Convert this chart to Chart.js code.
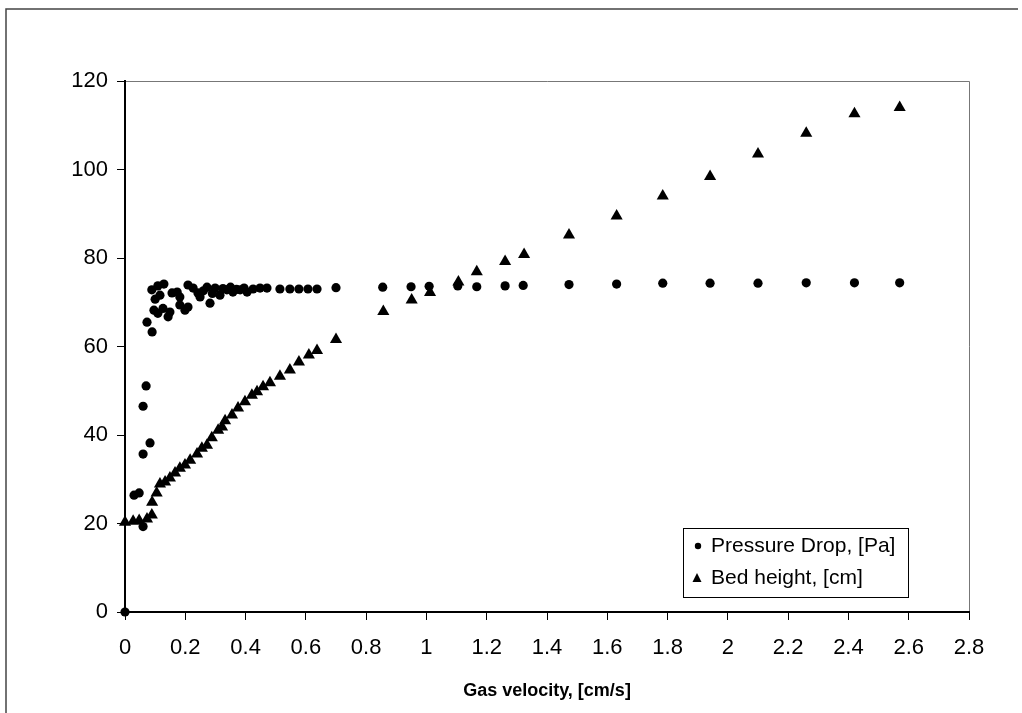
<!DOCTYPE html>
<html>
<head>
<meta charset="utf-8">
<script src="https://cdn.jsdelivr.net/npm/chart.js@4.4.1/dist/chart.umd.min.js"></script>
<style>
    body { margin: 0; background: #ffffff; }
    #wrap { width: 1022px; height: 713px; }
</style>
</head>
<body>
<div id="wrap"><canvas id="canvasChart" width="1022" height="713"></canvas></div>
<script>
// data
var pressureX = [0, 0.030, 0.047, 0.060, 0.060, 0.083, 0.060, 0.070, 0.090, 0.073,
    0.089, 0.109, 0.129, 0.100, 0.116, 0.096, 0.109, 0.126, 0.143, 0.149,
    0.156, 0.173, 0.182, 0.182, 0.199, 0.209, 0.209, 0.226, 0.242, 0.249,
    0.260, 0.272, 0.282, 0.290, 0.299, 0.315, 0.325, 0.338, 0.350, 0.358,
    0.370, 0.382, 0.395, 0.405, 0.425, 0.448, 0.471, 0.514, 0.547, 0.577,
    0.607, 0.637, 0.700, 0.855, 0.949, 1.009, 1.104, 1.167, 1.261, 1.321,
    1.473, 1.631, 1.784, 1.941, 2.100, 2.260, 2.420, 2.570];
var pressureY = [0, 26.4, 26.9, 19.3, 35.7, 38.2, 46.5, 51.1, 63.3, 65.5,
    72.8, 73.7, 74.1, 70.7, 71.6, 68.2, 67.5, 68.6, 66.7, 67.8,
    72.1, 72.3, 71.2, 69.4, 68.2, 68.9, 73.9, 73.2, 72.1, 71.2,
    72.6, 73.4, 69.8, 72.0, 73.2, 71.6, 73.1, 72.8, 73.4, 72.3,
    72.9, 72.8, 73.2, 72.3, 73.0, 73.2, 73.2, 73.0, 73.0, 73.0,
    73.0, 73.0, 73.3, 73.4, 73.5, 73.6, 73.7, 73.5, 73.7, 73.8,
    74.0, 74.1, 74.3, 74.3, 74.3, 74.4, 74.4, 74.4];

var bedX = [0, 0.027, 0.047, 0.073, 0.089, 0.090, 0.105, 0.116, 0.133, 0.149,
    0.166, 0.182, 0.199, 0.216, 0.239, 0.255, 0.272, 0.288, 0.309, 0.322,
    0.332, 0.355, 0.375, 0.398, 0.421, 0.438, 0.458, 0.481, 0.514, 0.547,
    0.577, 0.610, 0.637, 0.700, 0.857, 0.951, 1.012, 1.106, 1.167, 1.261,
    1.324, 1.473, 1.631, 1.784, 1.941, 2.100, 2.260, 2.420, 2.570];
var bedY = [20.3, 20.5, 20.7, 21.0, 21.9, 24.8, 26.9, 28.9, 29.4, 30.3,
    31.4, 32.5, 33.2, 34.3, 35.7, 37.0, 37.7, 39.4, 41.1, 41.8,
    43.2, 44.5, 46.1, 47.5, 49.0, 49.8, 50.9, 51.8, 53.3, 54.7,
    56.5, 58.1, 59.1, 61.6, 67.9, 70.5, 72.2, 74.6, 76.9, 79.2,
    80.8, 85.2, 89.5, 94.0, 98.4, 103.5, 108.2, 112.6, 114.0];

var seriesLabels = ['Pressure Drop, [Pa]', 'Bed height, [cm]'];
var xAxisTitle = 'Gas velocity, [cm/s]';
var xRange = [0, 2.8, 0.2];
var yRange = [0, 120, 20];

var fontFamily = '"Liberation Sans", Arial, sans-serif';

function toPoints(xs, ys){
    var points = [];
    for(var i = 0; i < xs.length; i++){
        points.push({x: xs[i], y: ys[i]});
    }
    return points;
}

var framePlugin = {
    id: 'frame',
    beforeDraw: function(chart){
        var ctx = chart.ctx;
        var area = chart.chartArea;
        ctx.save();
        ctx.fillStyle = '#ffffff';
        ctx.fillRect(0, 0, chart.width, chart.height);
        // outer frame of the figure
        ctx.strokeStyle = '#444444';
        ctx.lineWidth = 1.5;
        ctx.beginPath();
        ctx.moveTo(6, chart.height);
        ctx.lineTo(6, 9);
        ctx.lineTo(chart.width - 4, 9);
        ctx.stroke();
        // plot area border, top and right
        ctx.strokeStyle = '#777777';
        ctx.lineWidth = 1;
        ctx.beginPath();
        ctx.moveTo(area.left, area.top + 0.5);
        ctx.lineTo(area.right + 0.5, area.top + 0.5);
        ctx.lineTo(area.right + 0.5, area.bottom);
        ctx.stroke();
        ctx.restore();
    }
};

function drawTriangle(ctx, x, y, size){
    var h = size * 0.9;
    ctx.beginPath();
    ctx.moveTo(x, y - h / 2 - 1);
    ctx.lineTo(x + size / 2, y + h / 2);
    ctx.lineTo(x - size / 2, y + h / 2);
    ctx.closePath();
    ctx.fill();
}

var legendPlugin = {
    id: 'boxLegend',
    afterDraw: function(chart){
        var ctx = chart.ctx;
        var area = chart.chartArea;
        var right = area.right - 61;
        var bottom = area.bottom - 15;
        var left = right - 225;
        var top = bottom - 69;
        ctx.save();
        ctx.fillStyle = '#ffffff';
        ctx.fillRect(left, top, right - left, bottom - top);
        ctx.strokeStyle = '#000000';
        ctx.lineWidth = 1;
        ctx.strokeRect(left + 0.5, top + 0.5, right - left, bottom - top);
        ctx.fillStyle = '#000000';
        ctx.font = '21px ' + fontFamily;
        ctx.textBaseline = 'middle';
        ctx.textAlign = 'left';
        // circle entry
        ctx.beginPath();
        ctx.arc(left + 15, top + 18, 3.2, 0, Math.PI * 2);
        ctx.fill();
        ctx.fillText(chart.data.datasets[0].label, left + 28, top + 18);
        // triangle entry
        drawTriangle(ctx, left + 14, top + 50, 9);
        ctx.fillText(chart.data.datasets[1].label, left + 28, top + 50);
        ctx.restore();
    }
};

function createConfig(){
    var config = {
        type: 'scatter',
        data: {
            datasets: [{
                label: seriesLabels[0],
                data: toPoints(pressureX, pressureY),
                pointStyle: 'circle',
                pointRadius: 4.6,
                backgroundColor: '#000000',
                borderColor: '#000000',
                borderWidth: 0,
                clip: false
            }, {
                label: seriesLabels[1],
                data: toPoints(bedX, bedY),
                pointStyle: 'triangle',
                pointRadius: 7,
                backgroundColor: '#000000',
                borderColor: '#000000',
                borderWidth: 0,
                clip: false
            }]
        },
        options: {
            responsive: false,
            animation: false,
            devicePixelRatio: 1,
            layout: {
                padding: {left: 0, top: 81, right: 53, bottom: 0}
            },
            plugins: {
                legend: {display: false},
                tooltip: {enabled: false}
            },
            scales: {
                x: {
                    type: 'linear',
                    min: xRange[0],
                    max: xRange[1],
                    afterFit: function(scale){ scale.height = 101; },
                    ticks: {
                        stepSize: xRange[2],
                        color: '#000000',
                        padding: 15,
                        maxRotation: 0,
                        autoSkip: false,
                        font: {family: fontFamily, size: 22},
                        callback: function(value){ return String(+value.toFixed(1)); }
                    },
                    grid: {
                        display: true,
                        drawOnChartArea: false,
                        drawTicks: true,
                        tickLength: 8,
                        color: '#000000',
                        lineWidth: 1
                    },
                    border: {display: true, color: '#000000', width: 2},
                    title: {
                        display: true,
                        text: xAxisTitle,
                        color: '#000000',
                        padding: {top: 4, bottom: 11},
                        font: {family: fontFamily, size: 18, weight: 'bold'}
                    }
                },
                y: {
                    type: 'linear',
                    min: yRange[0],
                    max: yRange[1],
                    afterFit: function(scale){ scale.width = 125; },
                    ticks: {
                        stepSize: yRange[2],
                        color: '#000000',
                        padding: 9,
                        font: {family: fontFamily, size: 22}
                    },
                    grid: {
                        display: true,
                        drawOnChartArea: false,
                        drawTicks: true,
                        tickLength: 8,
                        color: '#000000',
                        lineWidth: 1
                    },
                    border: {display: true, color: '#000000', width: 2}
                }
            }
        },
        plugins: [framePlugin, legendPlugin]
    };
    return config;
}

var ctx = document.getElementById('canvasChart').getContext('2d');
var chart = new Chart(ctx, createConfig());
</script>
</body>
</html>
